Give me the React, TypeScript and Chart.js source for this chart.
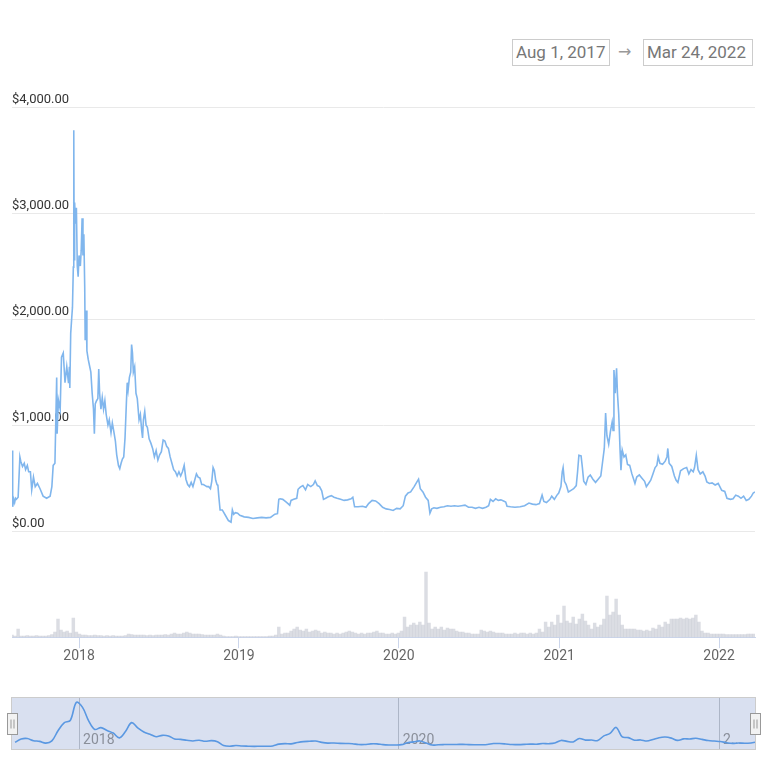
import React, { useEffect, useRef } from "react";
import { Chart, registerables } from "chart.js";

Chart.register(...registerables);

// ---- data ----
const startLabel = "Aug 1, 2017";
const endLabel = "Mar 24, 2022";
const totalDays = 1696; // days from Aug 1, 2017 to Mar 24, 2022

const yearTickDays = [153, 518, 883, 1249, 1614];
const yearTickLabels = ["2018", "2019", "2020", "2021", "2022"];
const navTickDays = [153, 883, 1614];
const navTickLabels = ["2018", "2020", "2..."];

const priceMin = -1000;
const priceMax = 4000;
const priceStep = 1000;

// price (USD), day offset from Aug 1, 2017
const priceDay = [
  0, 1, 2, 4, 6, 8, 10, 14, 18, 20, 24, 28, 31, 35, 38, 42, 45, 49, 53, 58, 64, 71, 79, 87, 91, 94, 98,
  102, 103, 106, 110, 113, 117, 121, 125, 129, 131, 132, 134, 136, 138, 140, 141, 142, 143, 145, 147, 149,
  151, 153, 156, 158, 160, 162, 164, 166, 167, 169, 171, 174, 177, 180, 183, 186, 188, 190, 193, 196, 198,
  200, 203, 206, 209, 212, 215, 219, 222, 226, 229, 232, 236, 239, 243, 246, 249, 252, 255, 258, 261, 263,
  265, 268, 271, 273, 275, 277, 280, 283, 286, 290, 293, 296, 298, 300, 303, 306, 309, 313, 317, 321, 325,
  329, 333, 337, 341, 345, 349, 353, 357, 361, 365, 369, 373, 377, 381, 385, 389, 393, 397, 401, 405, 409,
  413, 417, 421, 425, 429, 433, 437, 441, 445, 449, 453, 456, 459, 462, 465, 468, 470, 472, 475, 480, 487,
  494, 500, 503, 506, 510, 515, 520, 530, 540, 550, 560, 570, 580, 590, 600, 606, 609, 612, 618, 624, 630,
  634, 637, 643, 650, 653, 658, 664, 670, 675, 682, 688, 692, 697, 702, 707, 711, 716, 722, 729, 735, 742,
  750, 758, 766, 774, 778, 782, 790, 800, 808, 814, 822, 830, 838, 846, 854, 862, 870, 878, 886, 893, 898,
  904, 910, 918, 925, 928, 932, 938, 944, 950, 954, 958, 963, 970, 978, 986, 994, 1002, 1010, 1018, 1026,
  1034, 1042, 1050, 1058, 1066, 1074, 1082, 1088, 1092, 1098, 1104, 1110, 1116, 1122, 1127, 1130, 1138,
  1148, 1160, 1170, 1180, 1188, 1196, 1204, 1210, 1214, 1220, 1228, 1232, 1238, 1244, 1248, 1253, 1256,
  1258, 1261, 1265, 1270, 1276, 1282, 1288, 1291, 1294, 1299, 1302, 1305, 1310, 1315, 1320, 1326, 1332,
  1338, 1344, 1348, 1352, 1355, 1358, 1362, 1366, 1370, 1372, 1374, 1377, 1380, 1382, 1385, 1388, 1390,
  1393, 1397, 1401, 1405, 1410, 1415, 1419, 1422, 1426, 1432, 1438, 1444, 1448, 1453, 1458, 1463, 1468,
  1472, 1475, 1479, 1485, 1491, 1495, 1497, 1500, 1506, 1512, 1516, 1520, 1526, 1533, 1540, 1545, 1550,
  1555, 1558, 1562, 1566, 1571, 1577, 1582, 1586, 1592, 1598, 1605, 1612, 1620, 1627, 1632, 1640, 1646,
  1652, 1658, 1664, 1670, 1676, 1682, 1688, 1692, 1696,
];
const priceValue = [
  760, 420, 230, 300, 270, 310, 300, 320, 700, 660, 610, 640, 580, 620, 560, 560, 390, 510, 420, 450, 400, 330, 310, 330, 420, 620, 640,
  1450, 920, 1235, 1150, 1640, 1680, 1400, 1550, 1395, 1550, 1350, 1865, 1990, 2110, 2490, 3780, 2560, 3100, 2900, 3050, 2500,
  2400, 2600, 2500, 2650, 2950, 2600, 2800, 2300, 1800, 2080, 1700, 1620, 1560, 1500, 1300, 1150, 920, 1200, 1230, 1250, 1530,
  1300, 1150, 1260, 1150, 1230, 1100, 1000, 1050, 930, 1020, 950, 850, 720, 620, 590, 640, 680, 700, 880, 1200, 1400,
  1330, 1450, 1500, 1760, 1680, 1500, 1550, 1300, 1250, 1050, 1100, 950, 880, 1050, 1130, 1000, 980, 870, 830, 780, 700,
  760, 670, 720, 750, 860, 850, 800, 780, 700, 640, 580, 560, 520, 560, 520, 560, 620, 490, 440, 420, 460,
  420, 480, 540, 510, 500, 440, 440, 430, 420, 420, 400, 470, 600, 570, 480, 440, 430, 330, 200, 200, 150,
  100, 85, 200, 160, 175, 170, 150, 135, 130, 120, 125, 130, 125, 130, 160, 165, 300, 305, 300, 280, 260,
  245, 290, 300, 310, 395, 415, 430, 390, 440, 420, 440, 475, 430, 420, 380, 300, 310, 325, 335, 320, 310,
  300, 290, 295, 305, 320, 230, 230, 235, 225, 260, 290, 285, 260, 225, 210, 205, 195, 215, 210, 240, 330,
  360, 370, 420, 470, 490, 400, 370, 320, 290, 170, 210, 220, 215, 225, 230, 240, 235, 240, 235, 240,
  245, 225, 225, 215, 225, 215, 225, 240, 300, 280, 305, 290, 295, 285, 275, 235, 230,
  225, 230, 240, 265, 255, 250, 260, 340, 280, 270, 300, 330, 300, 340, 360, 420, 560,
  600, 470, 440, 370, 385, 400, 430, 560, 715, 710, 600, 470, 440, 510, 530, 490, 460,
  490, 520, 650, 780, 1115, 900, 820, 940, 1030, 950, 1520, 1300, 1535, 1300, 1100, 760, 575,
  765, 700, 720, 630, 620, 540, 490, 450, 510, 530, 500, 470, 420, 450, 480, 540, 600,
  620, 700, 640, 630, 660, 700, 780, 640, 610, 520, 480, 460, 570, 590, 600, 540, 580,
  560, 600, 715, 580, 540, 560, 520, 465, 450, 455, 435, 450, 385, 375, 310, 300, 305,
  340, 330, 310, 330, 290, 300, 330, 360, 370,
];

// weekly trading volume (USD billions), one bar per week from Aug 1, 2017
const volumeStepDays = 7;
const volumeValue = [
  0.2, 0.1, 0.8, 0.1, 0.1, 0.15, 0.1, 0.1, 0.15, 0.1,
  0.1, 0.1, 0.15, 0.25, 0.5, 1.8, 0.7, 0.5, 0.6, 0.4,
  1.9, 0.5, 0.3, 0.2, 0.2, 0.15, 0.15, 0.2, 0.15, 0.15,
  0.1, 0.15, 0.1, 0.15, 0.1, 0.1, 0.1, 0.15, 0.3, 0.25,
  0.2, 0.2, 0.2, 0.2, 0.15, 0.2, 0.15, 0.2, 0.2, 0.2,
  0.25, 0.2, 0.3, 0.4, 0.3, 0.3, 0.4, 0.5, 0.4, 0.3,
  0.3, 0.3, 0.25, 0.2, 0.2, 0.2, 0.2, 0.3, 0.2, 0.1,
  0.05, 0.05, 0.05, 0.1, 0.05, 0.05, 0.05, 0.05, 0.05, 0.05,
  0.05, 0.05, 0.05, 0.05, 0.1, 0.1, 0.2, 1.0, 0.3, 0.4,
  0.4, 0.6, 0.8, 1.0, 0.7, 0.6, 0.8, 0.5, 0.6, 0.7,
  0.6, 0.4, 0.5, 0.4, 0.4, 0.3, 0.4, 0.3, 0.4, 0.5,
  0.6, 0.5, 0.4, 0.3, 0.4, 0.3, 0.4, 0.4, 0.5, 0.6,
  0.4, 0.4, 0.3, 0.3, 0.4, 0.3, 0.4, 0.6, 2.0, 1.0,
  1.2, 1.4, 1.2, 1.5, 1.2, 6.5, 1.4, 0.8, 1.0, 0.8,
  1.0, 0.7, 0.9, 0.8, 0.8, 0.6, 0.5, 0.5, 0.4, 0.4,
  0.3, 0.3, 0.3, 0.7, 0.6, 0.5, 0.6, 0.5, 0.4, 0.4,
  0.4, 0.3, 0.3, 0.3, 0.4, 0.3, 0.4, 0.4, 0.3, 0.4,
  0.3, 0.4, 0.8, 0.5, 1.5, 1.0, 1.5, 1.2, 2.2, 1.4,
  3.1, 1.6, 1.4, 2.0, 1.3, 1.8, 2.3, 1.6, 1.2, 0.8,
  1.4, 1.0, 1.2, 1.8, 4.1, 2.2, 2.5, 3.8, 2.2, 1.2,
  0.8, 0.8, 0.8, 0.8, 0.7, 0.7, 0.6, 0.7, 0.6, 0.9,
  0.8, 1.2, 1.0, 1.5, 1.3, 1.8, 1.8, 1.8, 1.9, 1.8,
  1.9, 1.8, 1.9, 2.2, 1.5, 0.6, 0.4, 0.4, 0.3, 0.3,
  0.3, 0.3, 0.3, 0.25, 0.25, 0.25, 0.25, 0.25, 0.25, 0.25,
  0.3, 0.3, 0.3,
];
const volumeAxisMax = 53;
const navBinDays = 14;

// ---- helpers ----
const usd = new Intl.NumberFormat("en-US", { minimumFractionDigits: 2, maximumFractionDigits: 2 });
const fmtPrice = (v: number) => "$" + usd.format(v);

function groupAverage(days: number[], values: number[], bin: number) {
  const sums: Record<number, { s: number; n: number }> = {};
  days.forEach((d, i) => {
    const b = Math.floor(d / bin);
    if (!sums[b]) sums[b] = { s: 0, n: 0 };
    sums[b].s += values[i];
    sums[b].n += 1;
  });
  return Object.keys(sums)
    .map(Number)
    .sort((a, b) => a - b)
    .map((b) => ({ x: Math.min(b * bin + bin / 2, totalDays), y: sums[b].s / sums[b].n }));
}

const navigatorDecor = {
  id: "navigatorDecor",
  beforeDraw(chart: any) {
    const { ctx, chartArea: a } = chart;
    ctx.save();
    ctx.fillStyle = "rgba(102,133,194,0.25)";
    ctx.fillRect(a.left, a.top, a.right - a.left, a.bottom - a.top);
    ctx.restore();
  },
  afterDraw(chart: any) {
    const { ctx, chartArea: a } = chart;
    ctx.save();
    ctx.strokeStyle = "#cccccc";
    ctx.lineWidth = 1;
    ctx.strokeRect(Math.round(a.left) - 0.5, Math.round(a.top) - 0.5, a.right - a.left + 1, a.bottom - a.top + 1);
    const mid = (a.top + a.bottom) / 2;
    [a.left, a.right].forEach((hx: number) => {
      const w = 10, h = 21;
      const x0 = Math.round(hx - w / 2) + 0.5;
      const y0 = Math.round(mid - h / 2) + 0.5;
      ctx.fillStyle = "#f2f2f2";
      ctx.strokeStyle = "#999999";
      ctx.fillRect(x0, y0, w, h);
      ctx.strokeRect(x0, y0, w, h);
      ctx.beginPath();
      ctx.moveTo(x0 + 3.5, y0 + 6);
      ctx.lineTo(x0 + 3.5, y0 + h - 6);
      ctx.moveTo(x0 + 6.5, y0 + 6);
      ctx.lineTo(x0 + 6.5, y0 + h - 6);
      ctx.stroke();
    });
    ctx.restore();
  },
};

export default function App() {
  const mainRef = useRef<HTMLCanvasElement | null>(null);
  const navRef = useRef<HTMLCanvasElement | null>(null);

  useEffect(() => {
    Chart.defaults.font.family = "Roboto, 'Noto Sans', sans-serif";
    const main = new Chart(mainRef.current as HTMLCanvasElement, {
      type: "line",
      data: {
        datasets: [
          {
            type: "line",
            data: priceDay.map((d, i) => ({ x: d, y: priceValue[i] })),
            borderColor: "#80b6ed",
            borderWidth: 1.6,
            pointRadius: 0,
            tension: 0,
            yAxisID: "y",
            order: 1,
          } as any,
          {
            type: "bar",
            data: volumeValue.map((v, i) => ({ x: i * volumeStepDays, y: v })),
            backgroundColor: "rgba(175,180,192,0.45)",
            barThickness: 2.8,
            yAxisID: "yv",
            order: 2,
          } as any,
        ],
      },
      options: {
        animation: false,
        responsive: false,
        events: [],
        layout: { padding: { left: 12, right: 13, top: 107, bottom: 15 } },
        plugins: { legend: { display: false }, tooltip: { enabled: false } },
        scales: {
          x: {
            type: "linear",
            min: 0,
            max: totalDays,
            offset: false,
            afterBuildTicks: (s: any) => {
              s.ticks = yearTickDays.map((v) => ({ value: v }));
            },
            ticks: {
              autoSkip: false,
              maxRotation: 0,
              padding: 0,
              color: "#666666",
              font: { size: 14 },
              callback: (v: any) => {
                const i = yearTickDays.indexOf(Number(v));
                return i >= 0 ? yearTickLabels[i] : "";
              },
            },
            grid: { offset: false, drawOnChartArea: false, drawTicks: true, tickLength: 11, color: "#ccd6eb" },
            border: { display: true, color: "#ccd6eb" },
          },
          y: {
            type: "linear",
            position: "left",
            min: priceMin,
            max: priceMax,
            ticks: {
              stepSize: priceStep,
              mirror: true,
              padding: 0,
              labelOffset: -7,
              color: "#333333",
              font: { size: 13 },
              callback: (v: any) => (Number(v) < 0 ? "" : fmtPrice(Number(v))),
            },
            grid: {
              drawTicks: false,
              color: (c: any) => (c.tick && c.tick.value < 0 ? "rgba(0,0,0,0)" : "#e9e9e9"),
            },
            border: { display: false },
          },
          yv: { type: "linear", position: "left", display: false, min: 0, max: volumeAxisMax },
        },
      } as any,
    });

    const navData = groupAverage(priceDay, priceValue, navBinDays);
    const ys = navData.map((p) => p.y);
    const gMin = Math.min(...ys);
    const gMax = Math.max(...ys);
    const gRange = gMax - gMin;

    const nav = new Chart(navRef.current as HTMLCanvasElement, {
      type: "line",
      data: {
        datasets: [
          {
            data: navData,
            borderColor: "#5a98e2",
            borderWidth: 1.6,
            pointRadius: 0,
            tension: 0.35,
            fill: false,
          } as any,
        ],
      },
      options: {
        animation: false,
        responsive: false,
        events: [],
        layout: { padding: { left: 12, right: 13, top: 8, bottom: 11 } },
        plugins: { legend: { display: false }, tooltip: { enabled: false } },
        scales: {
          x: {
            type: "linear",
            min: 0,
            max: totalDays,
            offset: false,
            afterBuildTicks: (s: any) => {
              s.ticks = navTickDays.map((v) => ({ value: v }));
            },
            ticks: {
              autoSkip: false,
              maxRotation: 0,
              mirror: true,
              padding: 0,
              align: "start",
              labelOffset: 4,
              color: "#8a8f9a",
              font: { size: 14 },
              callback: (v: any) => {
                const i = navTickDays.indexOf(Number(v));
                return i >= 0 ? navTickLabels[i] : "";
              },
            },
            grid: { offset: false, drawTicks: false, color: "rgba(120,130,150,0.45)" },
            border: { display: false },
          },
          y: { display: false, min: gMin - 0.06 * gRange, max: gMax + 0.1 * gRange },
        },
      } as any,
      plugins: [navigatorDecor],
    });

    return () => {
      main.destroy();
      nav.destroy();
    };
  }, []);

  const boxStyle: React.CSSProperties = {
    position: "absolute",
    top: 39,
    height: 27,
    boxSizing: "border-box",
    border: "1px solid #cccccc",
    fontFamily: "Roboto, 'Noto Sans', sans-serif",
    fontSize: 17,
    lineHeight: "25px",
    color: "#777777",
    paddingLeft: 3,
    whiteSpace: "nowrap",
    background: "#ffffff",
  };

  return (
    <div style={{ position: "absolute", left: 0, top: 0, width: 768, height: 768, overflow: "hidden", background: "#ffffff" }}>
      <div style={{ ...boxStyle, left: 512, width: 98 }}>{startLabel}</div>
      <div
        style={{
          position: "absolute",
          left: 618,
          top: 41,
          fontFamily: "'DejaVu Sans', sans-serif",
          fontSize: 16,
          lineHeight: "22px",
          color: "#999999",
        }}
      >
        →
      </div>
      <div style={{ ...boxStyle, left: 643, width: 110 }}>{endLabel}</div>
      <canvas ref={mainRef} width={768} height={680} style={{ position: "absolute", left: 0, top: 0, width: 768, height: 680 }} />
      <canvas ref={navRef} width={768} height={70} style={{ position: "absolute", left: 0, top: 690, width: 768, height: 70 }} />
    </div>
  );
}
